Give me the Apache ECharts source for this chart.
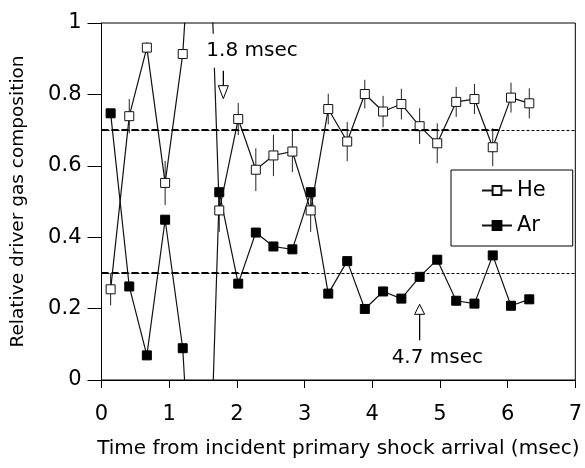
<!DOCTYPE html>
<html>
<head>
<meta charset="utf-8">
<script src="https://cdn.jsdelivr.net/npm/echarts@6/dist/echarts.min.js"></script>
<style>
  html, body { margin: 0; padding: 0; background: #fff; }
  #chart { width: 585px; height: 468px; }
</style>
</head>
<body>
<div id="chart"></div>
<script>
// Sampling times (msec after incident primary shock arrival)
const timeMs = [0.135, 0.41, 0.67, 0.94, 1.20, 1.50, 1.74, 2.02, 2.28, 2.54, 2.82, 3.09,
                3.35, 3.63, 3.89, 4.16, 4.43, 4.70, 4.96, 5.24, 5.51, 5.78, 6.05, 6.32];
// Helium mole fraction and its uncertainty
const heValues = [0.254, 0.739, 0.931, 0.552, 0.913, 1.80, 0.475, 0.731, 0.589, 0.629, 0.640, 0.475,
                  0.759, 0.668, 0.801, 0.752, 0.773, 0.711, 0.663, 0.779, 0.787, 0.652, 0.791, 0.775];
const heErrors = [0.045, 0.048, 0.015, 0.062, 0.010, 0.000, 0.060, 0.045, 0.060, 0.058, 0.058, 0.060,
                  0.043, 0.055, 0.040, 0.044, 0.043, 0.050, 0.056, 0.042, 0.042, 0.053, 0.042, 0.042];
// Argon mole fraction
const arValues = [0.747, 0.262, 0.069, 0.449, 0.089, -0.90, 0.526, 0.270, 0.413, 0.374, 0.366, 0.526,
                  0.242, 0.333, 0.199, 0.248, 0.228, 0.289, 0.337, 0.222, 0.214, 0.349, 0.208, 0.226];
// Nominal driver mixture (He, Ar) and how far the heavy reference dash runs
const mixLevels = [0.7, 0.3];
const mixHeavyEnd = [5.9, 3.05];
// Time markers called out on the plot
const noteTimes = [1.8, 4.7];
const noteLabels = ['1.8 msec', '4.7 msec'];
// Axis ticks
const xTicks = [0, 1, 2, 3, 4, 5, 6, 7];
const yTicks = [0, 0.2, 0.4, 0.6, 0.8, 1];

const FONT = 'DejaVu Sans';
const chart = echarts.init(document.getElementById('chart'), null, { renderer: 'canvas' });

const heData = timeMs.map((t, i) => [t, heValues[i]]);
const arData = timeMs.map((t, i) => [t, arValues[i]]);
const heBars = timeMs.map((t, i) => [t, heValues[i] - heErrors[i], heValues[i] + heErrors[i]])
                     .filter(d => d[2] - d[1] > 0);

const levelLines = [];
mixLevels.forEach((v, i) => {
  levelLines.push({ yAxis: v, lineStyle: { width: 1, type: [3, 2], color: '#000' } });
  levelLines.push([
    { coord: [0, v], lineStyle: { width: 2, type: [7, 3], color: '#000' } },
    { coord: [mixHeavyEnd[i], v] }
  ]);
});

const option = {
  animation: false,
  backgroundColor: '#fff',
  textStyle: { fontFamily: FONT },
  grid: {
    left: 101.5, right: 7.5, top: 23, bottom: 88,
    show: true, borderColor: '#000', borderWidth: 1, backgroundColor: 'transparent'
  },
  xAxis: {
    type: 'value', min: xTicks[0], max: xTicks[xTicks.length - 1], interval: 1,
    name: 'Time from incident primary shock arrival (msec)',
    nameLocation: 'middle', nameGap: 59,
    nameTextStyle: { fontFamily: FONT, fontSize: 20, color: '#000' },
    axisLine: { lineStyle: { color: '#000', width: 1 } },
    axisTick: { inside: false, length: 8, lineStyle: { color: '#000' } },
    axisLabel: { fontFamily: FONT, fontSize: 21, color: '#000', margin: 24 },
    splitLine: { show: false }
  },
  yAxis: {
    type: 'value', min: yTicks[0], max: yTicks[yTicks.length - 1], interval: 0.2,
    name: 'Relative driver gas composition',
    nameLocation: 'middle', nameGap: 74,
    nameTextStyle: { fontFamily: FONT, fontSize: 18.5, color: '#000' },
    axisLine: { lineStyle: { color: '#000', width: 1 } },
    axisTick: { inside: false, length: 14, lineStyle: { color: '#000' } },
    axisLabel: { fontFamily: FONT, fontSize: 21, color: '#000', margin: 20,
                 formatter: v => String(+v.toFixed(1)) },
    splitLine: { show: false }
  },
  legend: {
    left: 451, top: 170,
    orient: 'vertical',
    data: ['He', 'Ar'],
    itemWidth: 30, itemHeight: 11, itemGap: 14,
    padding: [10, 27, 10, 30],
    borderColor: '#000', borderWidth: 1, backgroundColor: '#fff',
    textStyle: { fontFamily: FONT, fontSize: 21, color: '#000' }
  },
  series: [
    {
      name: 'He error', type: 'custom', silent: true, z: 1, clip: true,
      data: heBars,
      renderItem: (params, api) => {
        const a = api.coord([api.value(0), api.value(1)]);
        const b = api.coord([api.value(0), api.value(2)]);
        return { type: 'line', shape: { x1: a[0], y1: a[1], x2: b[0], y2: b[1] },
                 style: { stroke: '#222', lineWidth: 1 } };
      }
    },
    {
      name: 'He', type: 'line', data: heData, clip: true, z: 3,
      symbol: 'rect', symbolSize: 9,
      lineStyle: { color: '#111', width: 1.2 },
      itemStyle: { color: '#fff', borderColor: '#111', borderWidth: 1 },
      markLine: { silent: true, symbol: 'none', label: { show: false }, animation: false,
                  data: levelLines }
    },
    {
      name: 'Ar', type: 'line', data: arData, clip: true, z: 3,
      symbol: 'rect', symbolSize: 9,
      lineStyle: { color: '#111', width: 1.2 },
      itemStyle: { color: '#000', borderColor: '#000', borderWidth: 1 }
    },
    {
      name: 'notes', type: 'custom', silent: true, z: 5, clip: false,
      data: noteTimes.map((t, i) => [t, i]),
      renderItem: (params, api) => {
        const t = api.value(0);
        const i = api.value(1);
        if (i === 0) {
          // downward open arrow with label above
          const tip = api.coord([t, 0.788]);
          const x = tip[0], y = tip[1];
          return { type: 'group', children: [
            { type: 'text', style: { x: x - 19, y: y - 48, text: noteLabels[i], fill: '#000',
                font: '20px "' + FONT + '"', align: 'left', verticalAlign: 'middle',
                backgroundColor: '#fff', padding: [6, 2, 8, 2] } },
            { type: 'line', shape: { x1: x, y1: y - 28, x2: x, y2: y - 13 },
              style: { stroke: '#000', lineWidth: 1.3 } },
            { type: 'polygon', shape: { points: [[x - 5, y - 13], [x + 5, y - 13], [x, y]] },
              style: { fill: '#fff', stroke: '#000', lineWidth: 1 } }
          ] };
        }
        // upward open arrow with label below
        const tip = api.coord([t, 0.212]);
        const x = tip[0], y = tip[1];
        return { type: 'group', children: [
          { type: 'line', shape: { x1: x, y1: y + 36, x2: x, y2: y + 10 },
            style: { stroke: '#000', lineWidth: 1.3 } },
          { type: 'polygon', shape: { points: [[x - 5, y + 10], [x + 5, y + 10], [x, y]] },
            style: { fill: '#fff', stroke: '#000', lineWidth: 1 } },
          { type: 'text', style: { x: x - 28, y: y + 53, text: noteLabels[i], fill: '#000',
              font: '20px "' + FONT + '"', align: 'left', verticalAlign: 'middle' } }
        ] };
      }
    }
  ]
};

chart.setOption(option);
</script>
</body>
</html>
